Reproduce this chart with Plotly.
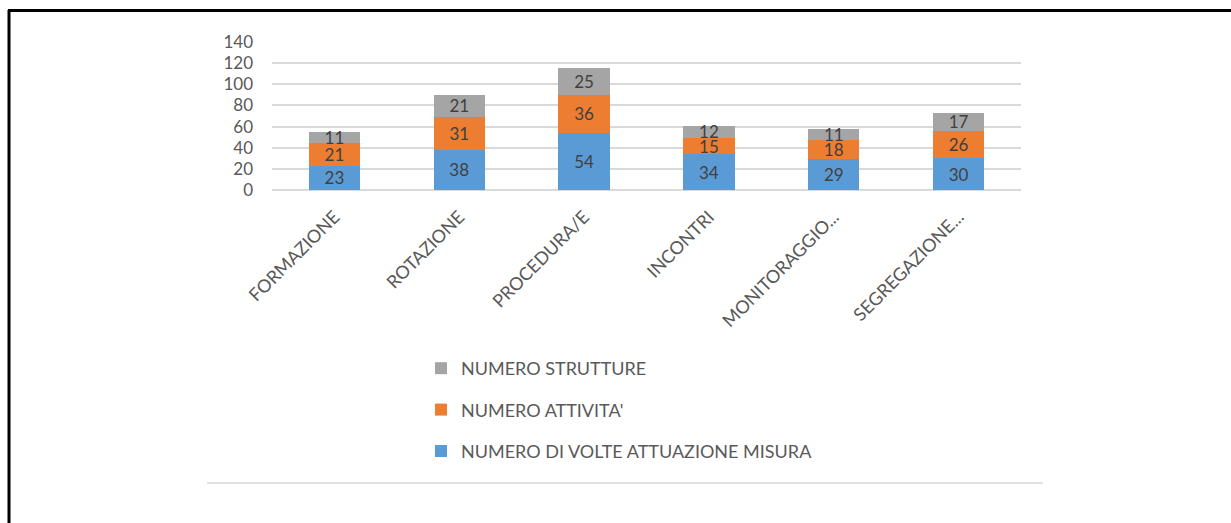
import plotly.graph_objects as go

categories = ["FORMAZIONE", "ROTAZIONE", "PROCEDURA/E", "INCONTRI", "MONITORAGGIO...", "SEGREGAZIONE..."]
volte = [23, 38, 54, 34, 29, 30]
attivita = [21, 31, 36, 15, 18, 26]
strutture = [11, 21, 25, 12, 11, 17]
y_ticks = [0, 20, 40, 60, 80, 100, 120, 140]

series = [
    ("NUMERO DI VOLTE ATTUAZIONE MISURA", volte, "#5B9BD5", 3),
    ("NUMERO ATTIVITA'", attivita, "#ED7D31", 2),
    ("NUMERO STRUTTURE", strutture, "#A5A5A5", 1),
]

FONT = "Lato, Open Sans, sans-serif"

fig = go.Figure()
for i, (name, vals, col, rank) in enumerate(series):
    fig.add_trace(go.Bar(
        x=categories, y=vals, name=name, marker=dict(color=col, line=dict(width=0)),
        text=[str(v) for v in vals], textposition="inside", insidetextanchor="middle",
        textangle=0, textfont=dict(size=17, color="#404040", family=FONT),
        legendgroup=str(i), legendrank=rank, cliponaxis=False,
    ))

W, H = 1231, 523
L, R, T, B = 272, 1021, 42, 190
pw, ph = R - L, B - T

def px(x):
    return (x - L) / pw

def py(y):
    return (B - y) / ph

fig.update_layout(
    width=W, height=H,
    margin=dict(l=L, r=W - R, t=T, b=H - B, pad=0),
    barmode="stack", bargap=0.59,
    plot_bgcolor="white", paper_bgcolor="white",
    font=dict(family=FONT, color="#595959"),
    uniformtext=dict(minsize=17, mode="show"),
    xaxis=dict(tickangle=-45, tickfont=dict(size=18, color="#595959", family=FONT),
               showgrid=False, showline=False, ticks="", fixedrange=True, ticklabelstandoff=12),
    yaxis=dict(range=[0, 140], tickvals=y_ticks, tickfont=dict(size=17, color="#595959", family=FONT),
               showgrid=True, gridcolor="#D9D9D9", gridwidth=1.5, zeroline=True, zerolinecolor="#D9D9D9",
               zerolinewidth=1.5, showline=False, ticks="", ticklabelstandoff=18),
    legend=dict(orientation="v", traceorder="grouped", tracegroupgap=15,
                x=px(421), xanchor="left", y=py(350), yanchor="top",
                font=dict(size=18, color="#595959", family=FONT),
                itemwidth=30, bgcolor="rgba(0,0,0,0)"),
    showlegend=True,
    shapes=[
        dict(type="line", xref="paper", yref="paper", x0=px(8), x1=px(1231), y0=py(10.5), y1=py(10.5),
             line=dict(color="black", width=3)),
        dict(type="line", xref="paper", yref="paper", x0=px(9), x1=px(9), y0=py(10), y1=py(523),
             line=dict(color="black", width=3)),
        dict(type="line", xref="paper", yref="paper", x0=px(207), x1=px(1043), y0=py(483), y1=py(483),
             line=dict(color="#D9D9D9", width=1.5)),
    ],
)

fig.write_html("out.html", config={"displayModeBar": False},
               post_script=("document.body.style.margin='0';document.body.style.overflow='hidden';"
                            "document.documentElement.style.overflow='hidden';"
                            "document.body.style.background='white';"))
